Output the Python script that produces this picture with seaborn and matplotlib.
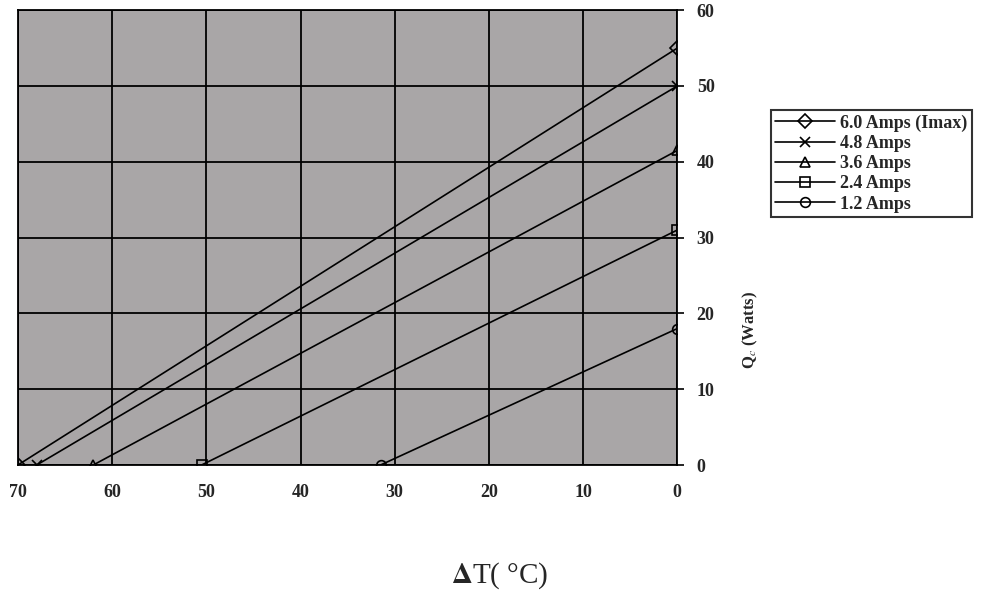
import pandas
import numpy
import seaborn

from matplotlib import pyplot as plt

# data ------------------------------------------------------------------------
series = ['6.0 Amps (Imax)', '4.8 Amps', '3.6 Amps', '2.4 Amps', '1.2 Amps']
dt_max = [70, 68, 62, 50.5, 31.5]      # deltaT where Qc = 0
q_max = [55, 50, 41.5, 31, 18]         # Qc at deltaT = 0
markers = ['D', 'x', '^', 's', 'o']
x_ticks = [70, 60, 50, 40, 30, 20, 10, 0]
y_ticks = [0, 10, 20, 30, 40, 50, 60]

rows = []
for name, dt, q in zip(series, dt_max, q_max):
	rows.append({'series': name, 'dT': dt, 'Q': 0})
	rows.append({'series': name, 'dT': 0, 'Q': q})
df = pandas.DataFrame(rows)

seaborn.set_style('white')
plt.rcParams['font.family'] = ['Liberation Serif', 'DejaVu Serif']
plt.rcParams['mathtext.fontset'] = 'stix'

fig = plt.figure(figsize=(9.96, 6), dpi=100)
ax = fig.add_axes([0.018, 0.225, 0.662, 0.758])
ax.set_facecolor('#a9a6a7')

handles = []
for name, m in zip(series, markers):
	seaborn.lineplot(data=df[df['series'] == name], x='dT', y='Q',
		color='black', marker=m, ax=ax, linewidth=1.2, markersize=7,
		markerfacecolor='none', markeredgecolor='black',
		markeredgewidth=1.2, sort=False, legend=False)
	handles.append(ax.get_lines()[-1])

ax.set_xlim(70, 0)
ax.set_ylim(0, 60)
ax.set_xticks(x_ticks)
ax.set_yticks(y_ticks)
ax.grid(True, color='black', linewidth=1.3)
for s in ax.spines.values():
	s.set_color('black')
	s.set_linewidth(1.3)

ax.yaxis.tick_right()
ax.tick_params(axis='both', which='both', direction='out', length=5, width=1.2,
	color='black', labelsize=13, pad=9)
for lbl in ax.get_xticklabels() + ax.get_yticklabels():
	lbl.set_fontweight('bold')

ax.set_xlabel('')
ax.set_ylabel('')
fig.text(0.502, 0.04, r'$\mathbf{\Delta}$T( °C)', ha='center', va='center',
	fontsize=21)
fig.text(0.753, 0.45, r'Q$_c$ (Watts)', rotation=90, ha='center', va='center',
	fontsize=12, fontweight='bold')

leg = fig.legend(handles, series, loc='upper left',
	bbox_to_anchor=(0.774, 0.817), frameon=True, fancybox=False,
	edgecolor='black', handlelength=3.3, handletextpad=0.3,
	labelspacing=0.18, borderpad=0.25, borderaxespad=0,
	prop={'size': 13, 'weight': 'bold'})
leg.get_frame().set_linewidth(1.5)

fig.savefig('out.png', dpi=100, facecolor='white')
